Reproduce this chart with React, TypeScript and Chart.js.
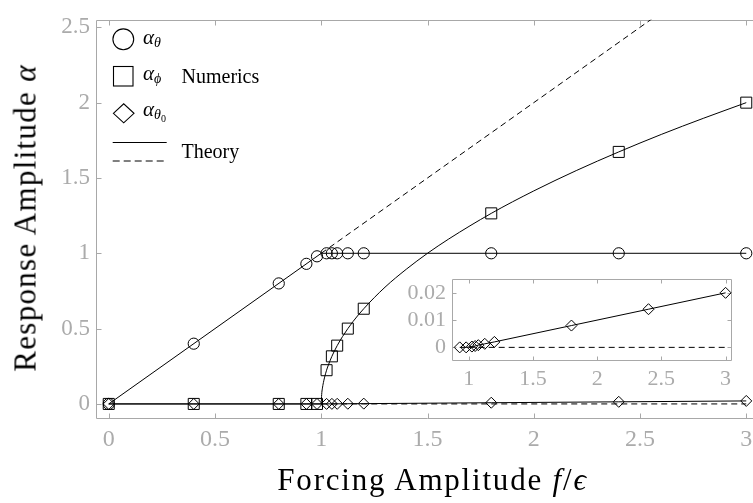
import React, { useEffect, useRef } from 'react';
import { Chart, registerables } from 'chart.js';

Chart.register(...registerables);

// ---------------- data ----------------
const forcing = [0, 0.4, 0.8, 0.93, 0.98, 1.025, 1.05, 1.075, 1.125, 1.2, 1.8, 2.4, 3.0];
const alphaTheta = [0, 0.4, 0.8, 0.93, 0.98, 1, 1, 1, 1, 1, 1, 1, 1];
const alphaPhi = [0, 0, 0, 0, 0, 0.224, 0.316, 0.387, 0.5, 0.632, 1.265, 1.673, 2.0];
const alphaTheta0 = [0, 0, 0, 0, 0, 0.0003, 0.0005, 0.0008, 0.0013, 0.002, 0.008, 0.014, 0.02];

const theoryThetaX = [0, 1, 3];
const theoryThetaY = [0, 1, 1];
const unstableThetaX = [1, 3];
const unstableThetaY = [1, 3];
const theoryPhiX = [1, 1.002, 1.005, 1.01, 1.02, 1.03, 1.05, 1.075, 1.1, 1.15, 1.2, 1.3, 1.4, 1.5, 1.6, 1.8, 2.0, 2.2, 2.4, 2.6, 2.8, 3.0];
const theoryPhiY = [0, 0.063, 0.1, 0.141, 0.2, 0.245, 0.316, 0.387, 0.447, 0.548, 0.632, 0.775, 0.894, 1.0, 1.095, 1.265, 1.414, 1.549, 1.673, 1.789, 1.897, 2.0];
const zeroSolidX = [0, 1];
const zeroSolidY = [0, 0];
const zeroDashedX = [1, 3];
const zeroDashedY = [0, 0];

const mainXTicks = [0, 0.5, 1, 1.5, 2, 2.5, 3];
const mainYTicks = [0, 0.5, 1, 1.5, 2, 2.5];
const insetXTicks = [1, 1.5, 2, 2.5, 3];
const insetYTicks = [0, 0.01, 0.02];

// ---------------- helpers ----------------
const FONT = "'Liberation Serif', 'Times New Roman', serif";
const GRAY_AXIS = '#a8a8a8';
const GRAY_TEXT = '#ababab';

const pts = (xs: number[], ys: number[]) => xs.map((x, i) => ({ x, y: ys[i] }));
const fmt = (v: any) => String(parseFloat(Number(v).toFixed(4)));

const lineDs = (xs: number[], ys: number[], dashed = false, smooth = false) => ({
  data: pts(xs, ys),
  showLine: true,
  borderColor: '#000',
  borderWidth: 1,
  borderDash: dashed ? [6, 4] : [],
  pointRadius: 0,
  pointHoverRadius: 0,
  cubicInterpolationMode: smooth ? 'monotone' : 'default',
  tension: 0,
  fill: false,
});

const markerDs = (xs: number[], ys: number[], style: string, r: number) => ({
  data: pts(xs, ys),
  showLine: false,
  pointStyle: style,
  pointRadius: r,
  pointHoverRadius: r,
  pointBorderColor: '#000',
  pointBackgroundColor: 'rgba(0,0,0,0)',
  pointBorderWidth: 1,
});

const framePlugin = (tickLen: number, whiteBg: boolean) => ({
  id: 'frameTicks',
  beforeDraw(chart: any) {
    if (!whiteBg) return;
    const { ctx, chartArea: a } = chart;
    ctx.save();
    ctx.fillStyle = '#fff';
    ctx.fillRect(a.left, a.top, a.right - a.left, a.bottom - a.top);
    ctx.restore();
  },
  beforeDatasetsDraw(chart: any) {
    const { ctx, chartArea: a, scales } = chart;
    const L = Math.round(a.left) + 0.5;
    const R = Math.round(a.right) - 0.5;
    const T = Math.round(a.top) + 0.5;
    const B = Math.round(a.bottom) - 0.5;
    ctx.save();
    ctx.strokeStyle = GRAY_AXIS;
    ctx.lineWidth = 1;
    ctx.beginPath();
    ctx.rect(L, T, R - L, B - T);
    for (const t of scales.x.ticks) {
      const px = Math.round(scales.x.getPixelForValue(t.value)) + 0.5;
      ctx.moveTo(px, B);
      ctx.lineTo(px, B - tickLen);
      ctx.moveTo(px, T);
      ctx.lineTo(px, T + tickLen);
    }
    for (const t of scales.y.ticks) {
      const py = Math.round(scales.y.getPixelForValue(t.value)) + 0.5;
      ctx.moveTo(L, py);
      ctx.lineTo(L + tickLen, py);
      ctx.moveTo(R, py);
      ctx.lineTo(R - tickLen, py);
    }
    ctx.stroke();
    ctx.restore();
  },
});

const axisCommon = (size: number, padding: number) => ({
  type: 'linear' as const,
  grid: { display: false, drawTicks: false },
  border: { display: false },
  ticks: {
    color: GRAY_TEXT,
    font: { family: FONT, size },
    padding,
    autoSkip: false,
    maxRotation: 0,
    minRotation: 0,
    callback: fmt,
  },
});

// ---------------- text helpers ----------------
const Txt = ({ x, base, size, italic, children, extra }: any) => (
  <div
    style={{
      position: 'absolute',
      left: x,
      top: base - 0.8375 * size,
      fontFamily: FONT,
      fontSize: size,
      lineHeight: `${size}px`,
      fontStyle: italic ? 'italic' : 'normal',
      whiteSpace: 'nowrap',
      color: '#000',
      ...(extra || {}),
    }}
  >
    {children}
  </div>
);

const Sub = ({ children, size = 14, drop = 4 }: any) => (
  <span style={{ fontSize: size, position: 'relative', top: drop, fontStyle: 'italic' }}>{children}</span>
);

export default function App() {
  const mainRef = useRef<HTMLCanvasElement>(null);
  const insetRef = useRef<HTMLCanvasElement>(null);

  useEffect(() => {
    const main = new Chart(mainRef.current as HTMLCanvasElement, {
      type: 'scatter',
      data: {
        datasets: [
          markerDs(forcing, alphaTheta0, 'rectRot', 5.5),
          markerDs(forcing, alphaPhi, 'rect', 7.8),
          markerDs(forcing, alphaTheta, 'circle', 5.6),
          lineDs(forcing, alphaTheta0),
          lineDs(theoryThetaX, theoryThetaY),
          lineDs(unstableThetaX, unstableThetaY, true),
          lineDs(theoryPhiX, theoryPhiY, false, true),
          lineDs(zeroSolidX, zeroSolidY),
          lineDs(zeroDashedX, zeroDashedY, true),
        ] as any,
      },
      options: {
        responsive: false,
        animation: false,
        devicePixelRatio: 1,
        layout: { padding: { top: 8, right: 21, left: 0, bottom: 0 } },
        plugins: { legend: { display: false }, tooltip: { enabled: false } },
        events: [],
        scales: {
          x: {
            ...axisCommon(24, 6),
            position: 'bottom',
            min: -0.06,
            max: 3.06,
            afterBuildTicks: (s: any) => { s.ticks = mainXTicks.map((v) => ({ value: v })); },
            afterFit: (s: any) => { s.height = 84; },
          },
          y: {
            ...axisCommon(23, 6),
            position: 'left',
            min: -0.1,
            max: 2.55,
            afterBuildTicks: (s: any) => { s.ticks = mainYTicks.map((v) => ({ value: v })); },
            afterFit: (s: any) => { s.width = 96; },
          },
        },
      } as any,
      plugins: [framePlugin(5, false)],
    });

    const idx = 3;
    const inset = new Chart(insetRef.current as HTMLCanvasElement, {
      type: 'scatter',
      data: {
        datasets: [
          markerDs(forcing.slice(idx), alphaTheta0.slice(idx), 'rectRot', 5.5),
          lineDs(forcing.slice(idx), alphaTheta0.slice(idx)),
          lineDs(zeroDashedX, zeroDashedY, true),
        ] as any,
      },
      options: {
        responsive: false,
        animation: false,
        devicePixelRatio: 1,
        layout: { padding: { top: 8, right: 13, left: 0, bottom: 0 } },
        plugins: { legend: { display: false }, tooltip: { enabled: false } },
        events: [],
        scales: {
          x: {
            ...axisCommon(22, 5),
            position: 'bottom',
            min: 0.87,
            max: 3.05,
            afterBuildTicks: (s: any) => { s.ticks = insetXTicks.map((v) => ({ value: v })); },
            afterFit: (s: any) => { s.height = 34; },
          },
          y: {
            ...axisCommon(22, 6),
            position: 'left',
            min: -0.005,
            max: 0.025,
            afterBuildTicks: (s: any) => { s.ticks = insetYTicks.map((v) => ({ value: v })); },
            afterFit: (s: any) => { s.width = 62; },
          },
        },
      } as any,
      plugins: [framePlugin(4, true)],
    });

    return () => {
      main.destroy();
      inset.destroy();
    };
  }, []);

  return (
    <div
      style={{
        position: 'fixed',
        left: 0,
        top: 0,
        width: 753,
        height: 503,
        overflow: 'hidden',
        background: '#fff',
      }}
    >
      <canvas
        ref={mainRef}
        width={780}
        height={503}
        style={{ position: 'absolute', left: 0, top: 0, width: 780, height: 503 }}
      />
      <canvas
        ref={insetRef}
        width={355}
        height={135}
        style={{ position: 'absolute', left: 390, top: 260, width: 355, height: 135 }}
      />

      {/* legend symbols */}
      <svg
        width={180}
        height={175}
        style={{ position: 'absolute', left: 0, top: 0, overflow: 'visible' }}
      >
        <circle cx={123.3} cy={39.3} r={10.4} fill="none" stroke="#000" strokeWidth={1.1} />
        <rect x={113.5} y={66.5} width={19.5} height={19.5} fill="none" stroke="#000" strokeWidth={1.1} />
        <polygon
          points="113.4,113.3 123.7,103.8 134,113.3 123.7,122.8"
          fill="none"
          stroke="#000"
          strokeWidth={1.1}
        />
        <line x1={112.7} y1={142.5} x2={166.7} y2={142.5} stroke="#000" strokeWidth={1} />
        <line x1={112.7} y1={161} x2={164} y2={161} stroke="#000" strokeWidth={1} strokeDasharray="7 4" />
      </svg>

      {/* legend texts */}
      <Txt x={143} base={45} size={21} italic>
        α<Sub drop={3}>θ</Sub>
      </Txt>
      <Txt x={143} base={81} size={21} italic>
        α<Sub drop={3}>ϕ</Sub>
      </Txt>
      <Txt x={181.5} base={82.5} size={20}>Numerics</Txt>
      <Txt x={143} base={117} size={21} italic>
        α<Sub drop={3}>θ<span style={{ fontSize: 10, position: 'relative', top: 3, fontStyle: 'normal' }}>0</span></Sub>
      </Txt>
      <Txt x={181.5} base={157.3} size={20}>Theory</Txt>

      {/* axis titles */}
      <div
        style={{
          position: 'absolute',
          left: 432.5,
          top: 490 - 0.8375 * 31,
          transform: 'translateX(-50%)',
          fontFamily: FONT,
          fontSize: 31,
          lineHeight: '31px',
          letterSpacing: 1.8,
          whiteSpace: 'nowrap',
          color: '#000',
        }}
      >
        Forcing Amplitude <i>f</i>/<i>ϵ</i>
      </div>
      <div
        style={{
          position: 'absolute',
          left: 24.5,
          top: 217.5,
          transform: 'translate(-50%, -50%) rotate(-90deg)',
          fontFamily: FONT,
          fontSize: 31,
          lineHeight: '31px',
          letterSpacing: 1.3,
          whiteSpace: 'nowrap',
          color: '#000',
        }}
      >
        Response Amplitude <i>α</i>
      </div>
    </div>
  );
}
